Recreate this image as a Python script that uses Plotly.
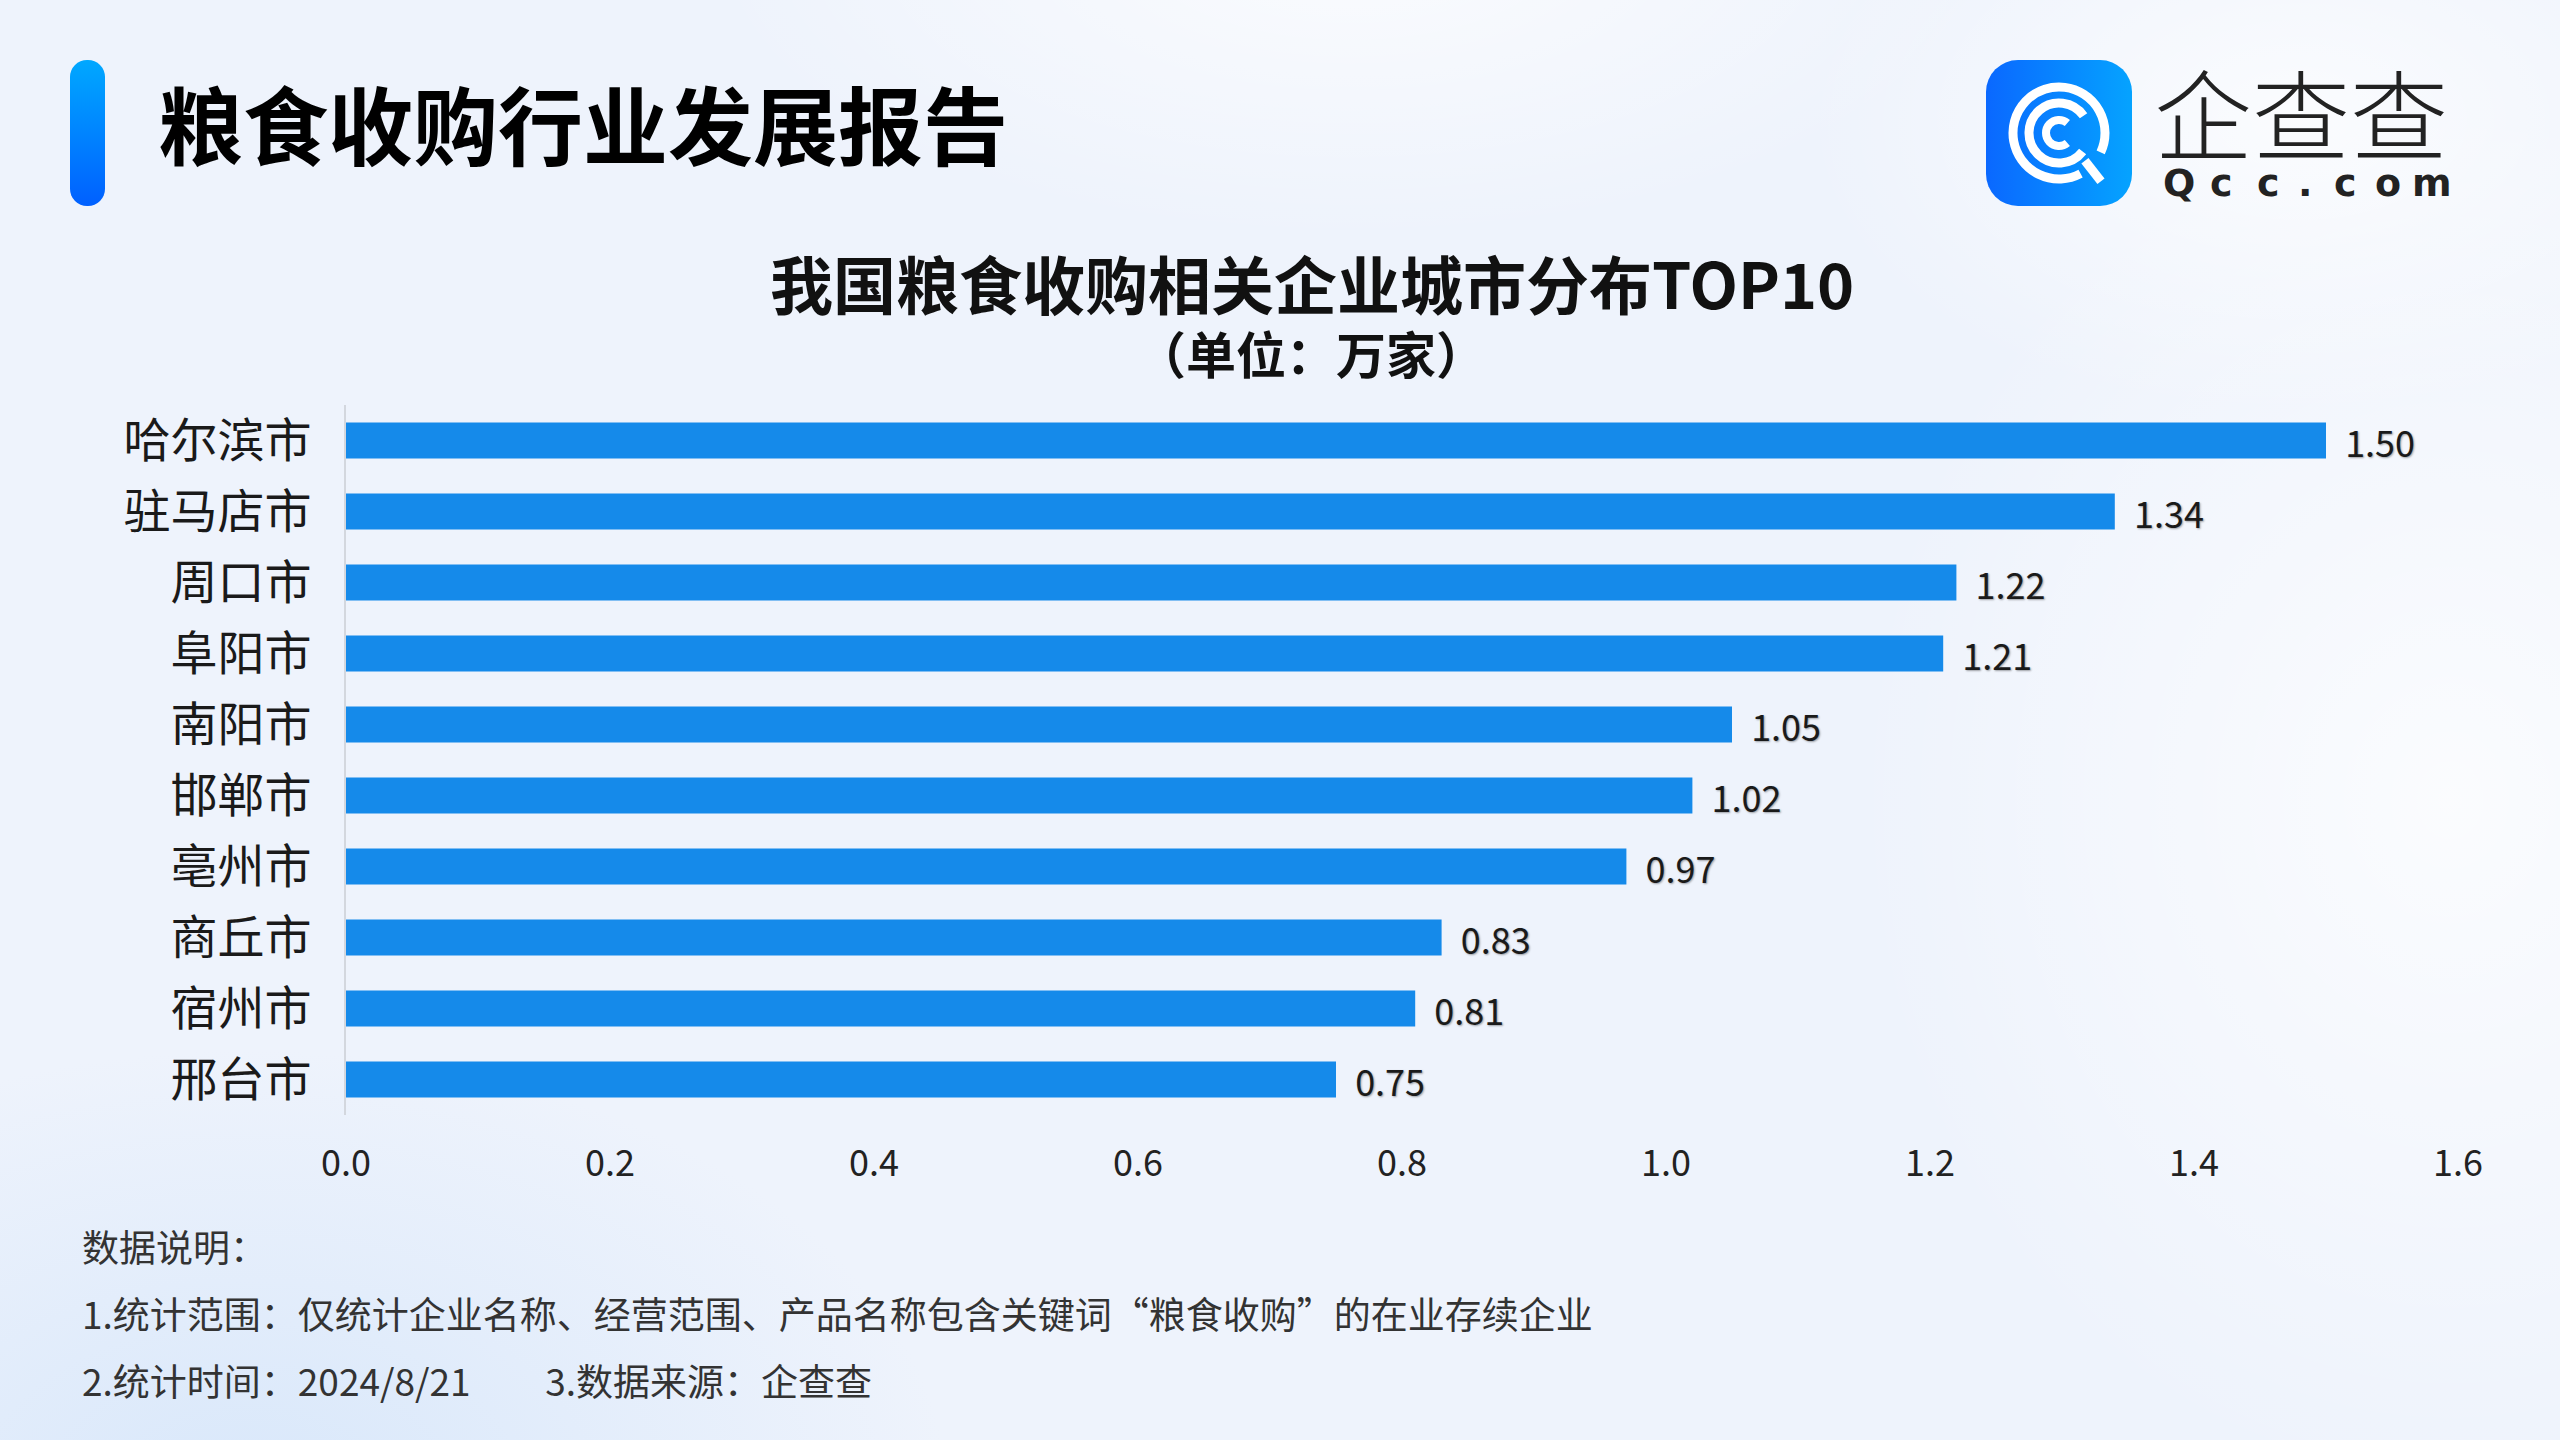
import base64
import math
import plotly.graph_objects as go

# ---------------- data ----------------
cities = ["哈尔滨市", "驻马店市", "周口市", "阜阳市", "南阳市", "邯郸市", "亳州市", "商丘市", "宿州市", "邢台市"]
counts = [1.50, 1.34, 1.22, 1.21, 1.05, 1.02, 0.97, 0.83, 0.81, 0.75]
x_ticks = [0.0, 0.2, 0.4, 0.6, 0.8, 1.0, 1.2, 1.4, 1.6]

header = "粮食收购行业发展报告"
title = "我国粮食收购相关企业城市分布TOP10"
subtitle = "（单位：万家）"
notes = [
    "数据说明：",
    "1.统计范围：仅统计企业名称、经营范围、产品名称包含关键词“粮食收购”的在业存续企业",
    "2.统计时间：2024/8/21" + "\u00a0" * 9 + "3.数据来源：企查查",
]

# ---------------- geometry ----------------
W, H = 2560, 1440
L, R, T, B = 346, 102, 405, 325
PW, PH = W - L - R, H - T - B


def px(x):
    return (x - L) / PW


def py(y):
    return 1 - (y - T) / PH


def svg_uri(svg):
    return "data:image/svg+xml;base64," + base64.b64encode(svg.encode("utf-8")).decode()


FONT = "Noto Sans CJK SC, Noto Sans, sans-serif"

fig = go.Figure()
fig.add_trace(go.Bar(
    x=counts, y=cities, orientation="h",
    marker=dict(color="#158AEA", line=dict(width=0)),
    text=counts, texttemplate="\u00a0\u00a0%{x:.2f}", textposition="outside",
    constraintext="none",
    textfont=dict(family=FONT, size=36, color="#1a1a1a", shadow="1px 1px 2px rgba(0,0,0,0.35)"),
    cliponaxis=False, hoverinfo="skip",
))

# background
bg_svg = f'''<svg xmlns="http://www.w3.org/2000/svg" width="{W}" height="{H}" viewBox="0 0 {W} {H}">
<defs>
<radialGradient id="g1" cx="0.5" cy="0.5" r="0.5"><stop offset="0" stop-color="#FFFFFF" stop-opacity="0.75"/><stop offset="1" stop-color="#FFFFFF" stop-opacity="0"/></radialGradient>
<radialGradient id="g2" cx="0.5" cy="0.5" r="0.5"><stop offset="0" stop-color="#D6E6FA" stop-opacity="0.9"/><stop offset="1" stop-color="#D6E6FA" stop-opacity="0"/></radialGradient>
</defs>
<rect width="{W}" height="{H}" fill="#EEF3FC"/>
<ellipse cx="1350" cy="-60" rx="650" ry="300" fill="url(#g1)"/>
<ellipse cx="2450" cy="800" rx="600" ry="700" fill="url(#g1)"/>
<ellipse cx="2300" cy="120" rx="500" ry="300" fill="url(#g1)"/>
<ellipse cx="250" cy="1500" rx="700" ry="450" fill="url(#g2)"/>
</svg>'''

bar_svg = '''<svg xmlns="http://www.w3.org/2000/svg" width="35" height="146" viewBox="0 0 35 146">
<defs><linearGradient id="a" x1="0" y1="0" x2="0" y2="1"><stop offset="0" stop-color="#00A8FF"/><stop offset="1" stop-color="#0060FF"/></linearGradient></defs>
<rect x="0" y="0" width="35" height="146" rx="17" ry="17" fill="url(#a)"/>
</svg>'''


def pt(r, deg):
    a = math.radians(deg)
    return 73 + r * math.cos(a), 73 + r * math.sin(a)


def arc(r, a0, a1):
    x0, y0 = pt(r, a0)
    x1, y1 = pt(r, a1)
    large = 1 if (a1 - a0) % 360 > 180 else 0
    return f"M{x0:.2f},{y0:.2f} A{r},{r} 0 {large} 1 {x1:.2f},{y1:.2f}"


tx0, ty0 = pt(38, 47)
tx1, ty1 = pt(64, 49)
icon_svg = f'''<svg xmlns="http://www.w3.org/2000/svg" width="146" height="146" viewBox="0 0 146 146">
<defs><linearGradient id="b" x1="0" y1="0" x2="1" y2="0"><stop offset="0" stop-color="#0A68FF"/><stop offset="1" stop-color="#05A3FF"/></linearGradient></defs>
<rect x="0" y="0" width="146" height="146" rx="32" ry="32" fill="url(#b)"/>
<g fill="none" stroke="#FFFFFF" stroke-width="9">
<path d="{arc(46, 62, 385)}"/>
<path d="{arc(30, 38, 325)}"/>
<path d="{arc(13, 50, 310)}" stroke-width="8"/>
<path d="M{tx0:.2f},{ty0:.2f} L{tx1:.2f},{ty1:.2f}"/>
</g>
</svg>'''

images = [
    dict(source=svg_uri(bg_svg), xref="paper", yref="paper", x=px(0), y=py(0),
         sizex=W / PW, sizey=H / PH, xanchor="left", yanchor="top", sizing="stretch", layer="below"),
    dict(source=svg_uri(bar_svg), xref="paper", yref="paper", x=px(70), y=py(60),
         sizex=35 / PW, sizey=146 / PH, xanchor="left", yanchor="top", sizing="stretch", layer="above"),
    dict(source=svg_uri(icon_svg), xref="paper", yref="paper", x=px(1986), y=py(60),
         sizex=146 / PW, sizey=146 / PH, xanchor="left", yanchor="top", sizing="stretch", layer="above"),
]

annotations = [
    dict(text=f"<b>{header}</b>", x=px(156), y=py(122), xanchor="left", yanchor="middle",
         font=dict(family=FONT, size=85, color="#000000", weight=900)),
    dict(text=f"<b>{title}</b>", x=px(1312), y=py(281), xanchor="center", yanchor="middle",
         font=dict(family=FONT, size=63, color="#111111")),
    dict(text=f"<b>{subtitle}</b>", x=px(1311), y=py(352), xanchor="center", yanchor="middle",
         font=dict(family=FONT, size=50, color="#111111")),
    dict(text="企查查", x=px(2152), y=py(110), xanchor="left", yanchor="middle",
         font=dict(family=FONT, size=98, color="#222222", weight=300)),
]
for ch, cx in zip("Qcc.com", [2179, 2221, 2268, 2305, 2345, 2388, 2432]):
    annotations.append(dict(text=f"<b>{ch}</b>", x=px(cx), y=py(183), xanchor="center", yanchor="middle",
                            font=dict(family="DejaVu Sans, sans-serif", size=38, color="#222222")))
for txt, yy in zip(notes, [1246, 1313, 1380]):
    annotations.append(dict(text=txt, x=px(80), y=py(yy), xanchor="left", yanchor="middle",
                            font=dict(family=FONT, size=37, color="#333333")))
for a in annotations:
    a.update(xref="paper", yref="paper", showarrow=False)

fig.update_layout(
    width=W, height=H,
    margin=dict(l=L, r=R, t=T, b=B, pad=0),
    paper_bgcolor="#EEF3FC", plot_bgcolor="rgba(0,0,0,0)",
    showlegend=False, bargap=0.49,
    images=images, annotations=annotations,
    xaxis=dict(range=[0, 1.6], tickvals=x_ticks, ticktext=[f"{v:.1f}" for v in x_ticks],
               showgrid=False, zeroline=False, showline=False, ticks="",
               ticklabelstandoff=24,
               tickfont=dict(family=FONT, size=36, color="#222222")),
    yaxis=dict(autorange="reversed", showgrid=False, zeroline=False,
               showline=True, linecolor="#D3D7DE", linewidth=2, ticks="",
               ticklabelstandoff=23,
               tickfont=dict(family=FONT, size=47, color="#1a1a1a")),
)

fig.write_html("out.html", config={"displayModeBar": False},
               post_script="document.body.style.margin='0';document.body.style.overflow='hidden';")
